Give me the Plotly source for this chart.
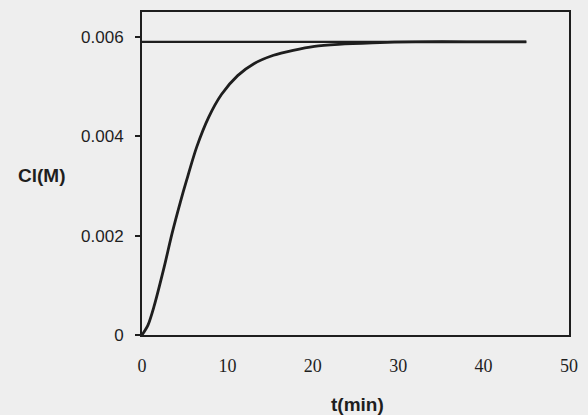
import plotly.graph_objects as go

# Data
t_curve = [0, 0.7, 1.4, 2.6, 3.5, 4.5, 5.2, 6.4, 7.8, 9.3, 11.2, 13.1, 15.4, 17.7, 20.2, 23, 27, 32, 38, 45]
c_curve = [0, 0.0002, 0.00057, 0.00137, 0.00203, 0.00268, 0.0031, 0.00378, 0.00438, 0.00484, 0.00522,
           0.00546, 0.00563, 0.00573, 0.00581, 0.00585, 0.00588, 0.0059, 0.0059, 0.0059]
t_sat = [0, 45]
c_sat = [0.0059, 0.0059]

x_ticks = [0, 10, 20, 30, 40, 50]
y_ticks = [0, 0.002, 0.004, 0.006]
y_ticktext = ["0", "0.002", "0.004", "0.006"]

paper = "#eeeeee"
ink = "#1e1e1e"

fig = go.Figure()
fig.add_trace(go.Scatter(x=t_sat, y=c_sat, mode="lines",
                         line=dict(color=ink, width=2.2), showlegend=False))
fig.add_trace(go.Scatter(x=t_curve, y=c_curve, mode="lines", line_shape="spline",
                         line=dict(color=ink, width=2.8, smoothing=0.8), showlegend=False))

L, R, T, B = 142, 10, 12, 80
fig.update_layout(
    width=588, height=415,
    margin=dict(l=L, r=R, t=T, b=B),
    paper_bgcolor=paper, plot_bgcolor=paper,
    xaxis=dict(range=[0, 50], tickvals=x_ticks, ticks="", showgrid=False, zeroline=False,
               showline=True, linecolor=ink, linewidth=2, mirror=True,
               tickfont=dict(family="Liberation Serif", size=18, color=ink),
               ticklabelstandoff=13),
    yaxis=dict(range=[0, 0.0065], tickvals=y_ticks, ticktext=y_ticktext, ticks="outside",
               ticklen=5, tickcolor=ink, tickwidth=1.5,
               showgrid=False, zeroline=False,
               showline=True, linecolor=ink, linewidth=2, mirror=True,
               tickfont=dict(family="Liberation Sans", size=17, color=ink),
               ticklabelstandoff=8),
)

pw = 588 - L - R
ph = 415 - T - B
def px2paper(px, py):
    return (px - L) / pw, (415 - B - py) / ph

for text, (px, py) in [("<b>Cl(M)</b>", (39, 175)), ("<b>t(min)</b>", (362, 404))]:
    ax, ay = px2paper(px, py)
    fig.add_annotation(text=text, x=ax, y=ay, xref="paper", yref="paper", showarrow=False,
                       xanchor="center", yanchor="middle",
                       font=dict(family="Liberation Sans", size=19, color=ink))

fig.write_html("out.html")
